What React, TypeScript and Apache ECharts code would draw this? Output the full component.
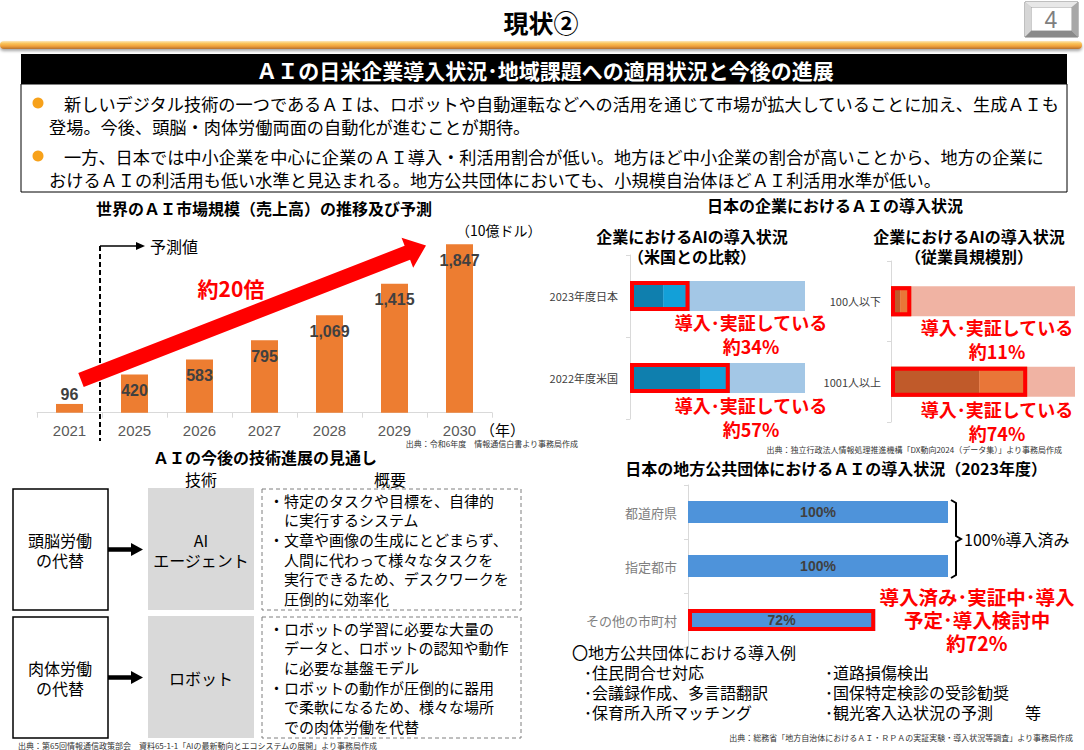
import React, { useEffect, useRef } from 'react';
import * as echarts from 'echarts';

const FONT = '"Noto Sans CJK JP", "Noto Sans", sans-serif';
const NUM_FONT = '"Liberation Sans", Arial, sans-serif';

// World AI market size (billion USD)
const marketYears = ['2021', '2025', '2026', '2027', '2028', '2029', '2030'];
const marketValues = [96, 420, 583, 795, 1069, 1415, 1847];

// AI adoption in companies, Japan vs US (%)
const countryCategories = ['2023年度日本', '2022年度米国'];
const countryAdopted = [19, 40];
const countryTrial = [15, 17];

// AI adoption by company size (%)
const sizeCategories = ['100人以下', '1001人以上'];
const sizeAdopted = [5, 48];
const sizeTrial = [6, 26];

// AI adoption in local governments, FY2023 (%)
const govCategories = ['都道府県', '指定都市', 'その他の市町村'];
const govValues = [100, 100, 72];

const bulletLines = [
  [
    '新しいデジタル技術の一つであるＡＩは、ロボットや自動運転などへの活用を通じて市場が拡大していることに加え、生成ＡＩも',
    '登場。今後、頭脳・肉体労働両面の自動化が進むことが期待。',
  ],
  [
    '一方、日本では中小企業を中心に企業のＡＩ導入・利活用割合が低い。地方ほど中小企業の割合が高いことから、地方の企業に',
    'おけるＡＩの利活用も低い水準と見込まれる。地方公共団体においても、小規模自治体ほどＡＩ利活用水準が低い。',
  ],
];

// hanging-indent lines: a full-width space lines continuation rows up with the bullet text
const agentLines = [
  '・特定のタスクや目標を、自律的',
  '　に実行するシステム',
  '・文章や画像の生成にとどまらず、',
  '　人間に代わって様々なタスクを',
  '　実行できるため、デスクワークを',
  '　圧倒的に効率化',
];
const robotLines = [
  '・ロボットの学習に必要な大量の',
  '　データと、ロボットの認知や動作',
  '　に必要な基盤モデル',
  '・ロボットの動作が圧倒的に器用',
  '　で柔軟になるため、様々な場所',
  '　での肉体労働を代替',
];

const govExamplesLeft = ['･住民問合せ対応', '･会議録作成、多言語翻訳', '･保育所入所マッチング'];
const govExamplesRight = ['･道路損傷検出', '･国保特定検診の受診勧奨', '･観光客入込状況の予測　　等'];

const countryTotal = countryAdopted.map((v, i) => v + countryTrial[i]);
const sizeTotal = sizeAdopted.map((v, i) => v + sizeTrial[i]);

type Pt = [number, number];

function arrowPoints(s: Pt, t: Pt, shaftHalf: number, headHalf: number, headLen: number): Pt[] {
  const dx = t[0] - s[0];
  const dy = t[1] - s[1];
  const len = Math.hypot(dx, dy);
  const ux = dx / len;
  const uy = dy / len;
  const px = -uy;
  const py = ux;
  const hx = t[0] - ux * headLen;
  const hy = t[1] - uy * headLen;
  return [
    [s[0] + px * shaftHalf, s[1] + py * shaftHalf],
    [hx + px * shaftHalf, hy + py * shaftHalf],
    [hx + px * headHalf, hy + py * headHalf],
    [t[0], t[1]],
    [hx - px * headHalf, hy - py * headHalf],
    [hx - px * shaftHalf, hy - py * shaftHalf],
    [s[0] - px * shaftHalf, s[1] - py * shaftHalf],
  ];
}

function txt(x: number, y: number, text: string, size: number, extra: any = {}) {
  const align = extra.align || 'left';
  const style: any = {
    text,
    fontSize: size,
    lineHeight: size,
    fontFamily: FONT,
    fill: '#000',
    align,
    textAlign: align,
    verticalAlign: 'middle',
    textVerticalAlign: 'middle',
    ...extra,
  };
  return { type: 'text', x, y, z: 100, style };
}

// multi-line block; y is the middle of the first line
function block(x: number, y: number, lines: string[], size: number, lh: number, extra: any = {}) {
  const mid = y + ((lines.length - 1) * lh) / 2;
  return txt(x, mid, lines.join('\n'), size, { lineHeight: lh, ...extra });
}

function rect(x: number, y: number, w: number, h: number, style: any, r?: number) {
  return { type: 'rect', z: 50, shape: { x, y, width: w, height: h, r: r || 0 }, style };
}

function buildGraphics() {
  const g: any[] = [];

  // header
  g.push(txt(541, 22, '現状②', 25, { align: 'center', fontWeight: 'bold' }));
  g.push(rect(1025, 2, 53, 35, { fill: '#bfbfbf', stroke: '#7f7f7f', lineWidth: 1 }));
  g.push({ type: 'polygon', z: 51, shape: { points: [[1025, 2], [1078, 2], [1072, 7], [1031, 7]] }, style: { fill: '#e8e8e8' } });
  g.push({ type: 'polygon', z: 51, shape: { points: [[1025, 2], [1031, 7], [1031, 31], [1025, 37]] }, style: { fill: '#d6d6d6' } });
  g.push({ type: 'polygon', z: 51, shape: { points: [[1025, 37], [1031, 31], [1072, 31], [1078, 37]] }, style: { fill: '#8a8a8a' } });
  g.push({ type: 'polygon', z: 51, shape: { points: [[1078, 2], [1078, 37], [1072, 31], [1072, 7]] }, style: { fill: '#a8a8a8' } });
  g.push(rect(1031, 7, 41, 24, { fill: '#ffffff', stroke: '#9a9a9a', lineWidth: 1 }));
  g.push(txt(1051, 20, '4', 23, { align: 'center', fill: '#7f7f7f', fontFamily: NUM_FONT }));

  g.push({
    type: 'rect',
    z: 50,
    shape: { x: 0, y: 41, width: 1082, height: 8, r: 4 },
    style: {
      fill: new echarts.graphic.LinearGradient(0, 0, 0, 1, [
        { offset: 0, color: '#fde7b8' },
        { offset: 0.3, color: '#f9c45c' },
        { offset: 0.65, color: '#f0a03a' },
        { offset: 1, color: '#b3702f' },
      ]),
      shadowBlur: 3,
      shadowOffsetY: 2,
      shadowColor: 'rgba(0,0,0,0.35)',
    },
  });

  g.push(rect(21, 54, 1046, 30, { fill: '#000' }));
  g.push(txt(545, 70, 'ＡＩの日米企業導入状況･地域課題への適用状況と今後の進展', 21, { align: 'center', fill: '#fff', fontWeight: 'bold' }));

  // bullet box
  g.push(rect(21, 84, 1046, 108, { fill: 'none', stroke: '#000', lineWidth: 1 }));
  const bulletY = [[103, 126], [156, 179]];
  bulletLines.forEach((lines, i) => {
    g.push({ type: 'circle', z: 60, shape: { cx: 38, cy: bulletY[i][0], r: 5.5 }, style: { fill: '#f7a11a' } });
    g.push(txt(64, bulletY[i][0], lines[0], 17.2));
    g.push(txt(49, bulletY[i][1], lines[1], 17.2));
  });

  // world market chart decorations
  g.push(txt(264, 208, '世界のＡＩ市場規模（売上高）の推移及び予測', 16, { align: 'center', fontWeight: 'bold' }));
  g.push(txt(456, 230, '（10億ドル）', 14));
  g.push(txt(480, 429, '（年）', 15));
  g.push({ type: 'line', z: 60, shape: { x1: 100, y1: 246, x2: 100, y2: 441 }, style: { stroke: '#000', lineWidth: 2, lineDash: [5, 3] } });
  g.push({ type: 'line', z: 60, shape: { x1: 100, y1: 246, x2: 137, y2: 246 }, style: { stroke: '#000', lineWidth: 1.5 } });
  g.push({ type: 'polygon', z: 60, shape: { points: [[136, 242], [145, 246], [136, 250]] }, style: { fill: '#000' } });
  g.push(txt(150, 246, '予測値', 16));
  g.push({
    type: 'polygon',
    z: 60,
    shape: { points: arrowPoints([81, 380], [426, 245.5], 7.5, 16, 20) },
    style: { fill: '#ff0000' },
  });
  g.push(txt(231, 288, '約20倍', 21, { align: 'center', fill: '#ff0000', fontWeight: 'bold' }));
  g.push(txt(578, 443, '出典：令和6年度　情報通信白書より事務局作成', 8, { align: 'right', fill: '#333' }));

  // company adoption charts
  const bold = { align: 'center', fontWeight: 'bold' };
  g.push(txt(835, 205, '日本の企業におけるＡＩの導入状況', 16, bold));
  g.push(block(692, 236, ['企業におけるAIの導入状況', '（米国との比較）'], 16, 20, bold));
  g.push(block(969, 236, ['企業におけるAIの導入状況', '（従業員規模別）'], 16, 20, bold));

  const red = { align: 'center', fill: '#ff0000', fontWeight: 'bold' };
  const countryNoteY = [322, 405];
  countryTotal.forEach((v, i) => {
    g.push(block(751, countryNoteY[i], ['導入･実証している', `約${v}%`], 18, 23.5, red));
  });
  const sizeNoteY = [327, 409];
  sizeTotal.forEach((v, i) => {
    g.push(block(997, sizeNoteY[i], ['導入･実証している', `約${v}%`], 18, 24, red));
  });
  g.push(txt(1062, 449, '出典：独立行政法人情報処理推進機構「DX動向2024（データ集）」より事務局作成', 8, { align: 'right', fill: '#333' }));

  // technology outlook
  g.push(txt(265, 457, 'ＡＩの今後の技術進展の見通し', 16, bold));
  g.push(txt(201, 479, '技術', 16, { align: 'center' }));
  g.push(txt(390, 479, '概要', 16, { align: 'center' }));

  const rows = [
    { top: 489, h: 121, left: ['頭脳労働', 'の代替'], tech: ['AI', 'エージェント'], lines: agentLines, lineY: 500 },
    { top: 617, h: 121, left: ['肉体労働', 'の代替'], tech: ['ロボット'], lines: robotLines, lineY: 628 },
  ];
  rows.forEach((r) => {
    const mid = r.top + r.h / 2;
    g.push(rect(13, r.top, 95, r.h, { fill: '#fff', stroke: '#000', lineWidth: 1.5 }));
    g.push(block(60, mid - 10, r.left, 16, 20, { align: 'center' }));
    g.push({ type: 'line', z: 60, shape: { x1: 108, y1: mid, x2: 132, y2: mid }, style: { stroke: '#000', lineWidth: 4.5 } });
    g.push({ type: 'polygon', z: 60, shape: { points: [[131, mid - 6.5], [143, mid], [131, mid + 6.5]] }, style: { fill: '#000' } });
    g.push(rect(148, r.top - 1, 106, r.h + 1, { fill: '#d9d9d9' }));
    g.push(block(201, mid - ((r.tech.length - 1) * 20) / 2, r.tech, 16, 20, { align: 'center' }));
    g.push(rect(262, r.top, 259, r.h, { fill: 'none', stroke: '#7f7f7f', lineWidth: 1, lineDash: [4, 3] }));
    g.push(block(269, r.lineY, r.lines, 15, 19.7));
  });
  g.push(txt(18, 745, '出典：第65回情報通信政策部会　資料65-1-1「AIの最新動向とエコシステムの展開」より事務局作成', 8, { fill: '#333' }));

  // local government chart
  g.push(txt(836, 468, '日本の地方公共団体におけるＡＩの導入状況（2023年度）', 16, bold));
  g.push({
    type: 'polyline',
    z: 60,
    shape: { points: [[951, 500], [956, 503], [956, 536], [961, 539], [956, 542], [956, 575], [951, 578]] },
    style: { stroke: '#000', lineWidth: 2, fill: null },
  });
  g.push(txt(964, 539, '100%導入済み', 16));
  g.push(block(977, 596, ['導入済み･実証中･導入', '予定･導入検討中', `約${govValues[2]}%`], 19.5, 23, red));
  g.push(txt(572, 652, '〇地方公共団体における導入例', 16));
  g.push(block(584, 672, govExamplesLeft, 16, 20));
  g.push(block(825, 672, govExamplesRight, 16, 20));
  g.push(txt(1073, 737, '出典：総務省「地方自治体におけるＡＩ・ＲＰＡの実証実験・導入状況等調査」より事務局作成', 8, { align: 'right', fill: '#333' }));

  return g;
}

function catAxis(gridIndex: number, data: string[], fontSize: number, color: string, margin: number) {
  return {
    gridIndex,
    type: 'category',
    data,
    inverse: true,
    axisLine: { show: true, lineStyle: { color: '#d9d9d9' } },
    axisTick: { show: true, length: 4, lineStyle: { color: '#d9d9d9' } },
    axisLabel: { color, fontSize, fontFamily: FONT, margin },
  };
}

function valAxis(gridIndex: number, max: number) {
  return { gridIndex, type: 'value', min: 0, max, show: false };
}

const redBox = {
  color: 'rgba(0,0,0,0)',
  borderColor: '#ff0000',
  borderWidth: 4,
};

function buildOption() {
  return {
    animation: false,
    backgroundColor: '#ffffff',
    textStyle: { fontFamily: FONT },
    grid: [
      { left: 37, top: 230.3, width: 455, height: 182.4 },
      { left: 630, top: 255, width: 175, height: 164 },
      { left: 891, top: 261, width: 184, height: 161 },
      { left: 688, top: 485, width: 260, height: 162 },
    ],
    xAxis: [
      {
        gridIndex: 0,
        type: 'category',
        data: marketYears,
        axisLine: { lineStyle: { color: '#d9d9d9' } },
        axisTick: { show: true, length: 5, lineStyle: { color: '#d9d9d9' } },
        axisLabel: { color: '#595959', fontSize: 15, fontFamily: NUM_FONT, margin: 10 },
      },
      valAxis(1, 100),
      valAxis(2, 100),
      valAxis(3, 100),
    ],
    yAxis: [
      valAxis(0, 2000),
      catAxis(1, countryCategories, 11, '#404040', 12),
      catAxis(2, sizeCategories, 11, '#404040', 10),
      catAxis(3, govCategories, 13, '#7f7f7f', 11),
    ],
    series: [
      {
        name: '世界のAI市場規模',
        type: 'bar',
        xAxisIndex: 0,
        yAxisIndex: 0,
        barWidth: 27,
        itemStyle: { color: '#ed7d31' },
        label: {
          show: true,
          position: 'insideTop',
          distance: 8,
          color: '#404040',
          fontSize: 16,
          fontWeight: 'bold',
          fontFamily: NUM_FONT,
          formatter: (p: any) => Number(p.value).toLocaleString('en-US'),
        },
        data: marketValues.map((v) => (v < 200 ? { value: v, label: { position: 'top', distance: 1 } } : v)),
      },
      {
        name: '導入している',
        type: 'bar',
        xAxisIndex: 1,
        yAxisIndex: 1,
        stack: 'country',
        barWidth: 30,
        barGap: '-100%',
        itemStyle: { color: '#0f7fae' },
        showBackground: true,
        backgroundStyle: { color: '#a3c7e6' },
        data: countryAdopted,
      },
      {
        name: '実証している',
        type: 'bar',
        xAxisIndex: 1,
        yAxisIndex: 1,
        stack: 'country',
        barWidth: 30,
        itemStyle: { color: '#13a0d8' },
        data: countryTrial,
      },
      {
        name: '導入・実証',
        type: 'bar',
        xAxisIndex: 1,
        yAxisIndex: 1,
        barWidth: 30,
        barGap: '-100%',
        z: 4,
        itemStyle: redBox,
        data: countryTotal,
      },
      {
        name: '導入している',
        type: 'bar',
        xAxisIndex: 2,
        yAxisIndex: 2,
        stack: 'size',
        barWidth: 30,
        barGap: '-100%',
        itemStyle: { color: '#c05a2a' },
        showBackground: true,
        backgroundStyle: { color: '#f0b3a3' },
        data: sizeAdopted,
      },
      {
        name: '実証している',
        type: 'bar',
        xAxisIndex: 2,
        yAxisIndex: 2,
        stack: 'size',
        barWidth: 30,
        itemStyle: { color: '#e97638' },
        data: sizeTrial,
      },
      {
        name: '導入・実証',
        type: 'bar',
        xAxisIndex: 2,
        yAxisIndex: 2,
        barWidth: 30,
        barGap: '-100%',
        z: 4,
        itemStyle: redBox,
        data: sizeTotal,
      },
      {
        name: '地方公共団体',
        type: 'bar',
        xAxisIndex: 3,
        yAxisIndex: 3,
        barWidth: 22,
        barGap: '-100%',
        itemStyle: { color: '#4e93da' },
        label: {
          show: true,
          position: 'inside',
          formatter: '{c}%',
          color: '#404040',
          fontSize: 14,
          fontWeight: 'bold',
          fontFamily: NUM_FONT,
        },
        data: govValues,
      },
      {
        name: '一部導入',
        type: 'bar',
        xAxisIndex: 3,
        yAxisIndex: 3,
        barWidth: 22,
        barGap: '-100%',
        z: 4,
        itemStyle: redBox,
        data: govValues.map((v) => (v < 100 ? v : '-')),
      },
    ],
    graphic: { elements: buildGraphics() },
  };
}

export default function App() {
  const ref = useRef<HTMLDivElement>(null);
  useEffect(() => {
    if (!ref.current) return;
    const chart = echarts.init(ref.current, null, { renderer: 'svg' });
    chart.setOption(buildOption() as any);
    return () => chart.dispose();
  }, []);
  return (
    <div
      ref={ref}
      style={{ position: 'absolute', left: 0, top: 0, width: 1084, height: 750, background: '#fff' }}
    />
  );
}
